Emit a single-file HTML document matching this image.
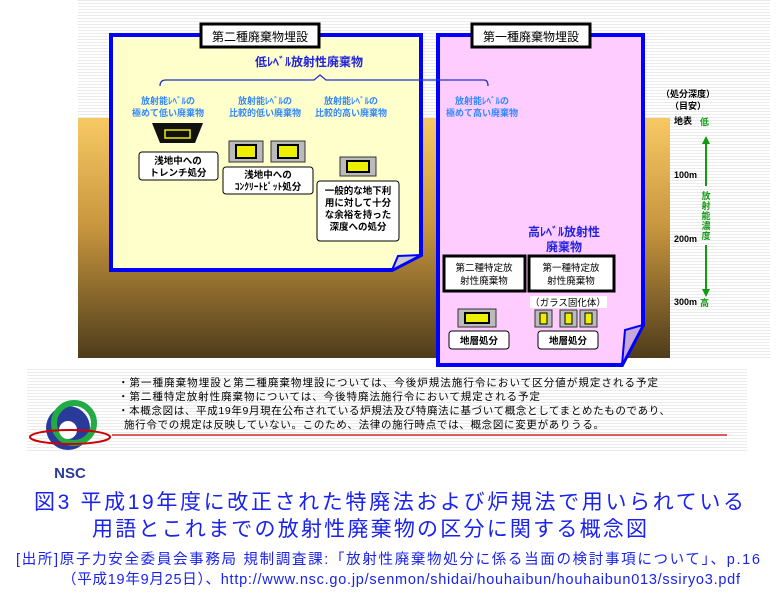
<!DOCTYPE html>
<html><head><meta charset="utf-8"><style>
html,body{margin:0;padding:0;background:#fff;width:777px;height:601px;overflow:hidden}
svg{display:block}
text{font-family:"Liberation Sans","Noto Sans CJK JP",sans-serif}
</style></head><body>
<svg width="777" height="601" viewBox="0 0 777 601" xmlns="http://www.w3.org/2000/svg">
<defs>
<pattern id="st" width="4" height="3" patternUnits="userSpaceOnUse"><rect width="4" height="1" fill="#ebebeb"/></pattern>
<linearGradient id="gr" x1="0" y1="0" x2="0" y2="1"><stop offset="0" stop-color="#f7c964"/><stop offset="0.45" stop-color="#c8963e"/><stop offset="1" stop-color="#4e3c1c"/></linearGradient>
</defs>
<rect x="78" y="0" width="692" height="118" fill="url(#st)"/>
<rect x="670" y="118" width="100" height="240" fill="url(#st)"/>
<rect x="27" y="367" width="720" height="85" fill="url(#st)"/>
<rect x="78" y="118" width="592" height="240" fill="url(#gr)"/>

<!-- yellow panel -->
<path d="M111 35 H421 V255 L392 270 H111 Z" fill="#ffffcc" stroke="#0000ff" stroke-width="4"/>
<path d="M421 255 L392 270 L398 256 Z" fill="#ccc" stroke="#0000ff" stroke-width="2"/>
<rect x="201" y="24" width="118" height="23" fill="#fff" stroke="#000" stroke-width="3"/>
<text x="260" y="41" font-size="12" text-anchor="middle">第二種廃棄物埋設</text>
<!-- pink panel -->
<path d="M438 35 H643 V325 L622 365 H438 Z" fill="#ffccff" stroke="#0000ff" stroke-width="4"/>
<path d="M643 325 L622 365 L625 330 Z" fill="#c8a8d8" stroke="#0000ff" stroke-width="2"/>
<rect x="472" y="24" width="118" height="23" fill="#fff" stroke="#000" stroke-width="3"/>
<text x="531" y="41" font-size="12" text-anchor="middle">第一種廃棄物埋設</text>

<text x="309" y="66" font-size="12" font-weight="bold" fill="#2222dd" text-anchor="middle">低ﾚﾍﾞﾙ放射性廃棄物</text>
<path d="M160 86 Q160 80 166 80 H314 L320 75 L326 80 H484 Q488 80 488 86" fill="none" stroke="#2233cc" stroke-width="1.3"/>

<g font-size="9" font-weight="bold" fill="#3388ff" text-anchor="middle">
<text x="168" y="104">放射能ﾚﾍﾞﾙの</text><text x="168" y="116">極めて低い廃棄物</text>
<text x="265" y="104">放射能ﾚﾍﾞﾙの</text><text x="265" y="116">比較的低い廃棄物</text>
<text x="351" y="104">放射能ﾚﾍﾞﾙの</text><text x="351" y="116">比較的高い廃棄物</text>
<text x="482" y="104">放射能ﾚﾍﾞﾙの</text><text x="482" y="116">極めて高い廃棄物</text>
</g>

<!-- icons -->
<path d="M152 123 H203 L195 143 H160 Z" fill="#111"/>
<rect x="165" y="130" width="25" height="8" fill="none" stroke="#ee0" stroke-width="1.5"/>
<rect x="229" y="141" width="34" height="21" fill="#bbb" stroke="#333"/><rect x="236" y="145" width="20" height="13" fill="#ee0" stroke="#000" stroke-width="2"/>
<rect x="271" y="141" width="34" height="21" fill="#bbb" stroke="#333"/><rect x="278" y="145" width="20" height="13" fill="#ee0" stroke="#000" stroke-width="2"/>
<rect x="340" y="157" width="36" height="19" fill="#bbb" stroke="#333"/><rect x="347" y="161" width="22" height="11" fill="#ee0" stroke="#000" stroke-width="2"/>

<g fill="#fff" stroke="#000" stroke-width="1">
<rect x="139" y="152" width="79" height="28" rx="3"/>
<rect x="223" y="167" width="90" height="27" rx="3"/>
<rect x="317" y="181" width="82" height="60" rx="3"/>
</g>
<g font-size="9.5" font-weight="bold" text-anchor="middle">
<text x="178" y="164">浅地中への</text><text x="178" y="176">トレンチ処分</text>
<text x="268" y="178">浅地中への</text><text x="268" y="190">ｺﾝｸﾘｰﾄﾋﾟｯﾄ処分</text>
<text x="358" y="194">一般的な地下利</text><text x="358" y="206">用に対して十分</text><text x="358" y="218">な余裕を持った</text><text x="358" y="230">深度への処分</text>
</g>

<text x="564" y="236" font-size="12" font-weight="bold" fill="#2222dd" text-anchor="middle">高ﾚﾍﾞﾙ放射性</text>
<text x="564" y="251" font-size="12" font-weight="bold" fill="#2222dd" text-anchor="middle">廃棄物</text>
<rect x="444" y="256" width="81" height="35" fill="#fff" stroke="#000" stroke-width="3"/>
<rect x="529" y="256" width="85" height="35" fill="#fff" stroke="#000" stroke-width="3"/>
<g font-size="9.5" text-anchor="middle">
<text x="484" y="271">第二種特定放</text><text x="484" y="284">射性廃棄物</text>
<text x="571" y="271">第一種特定放</text><text x="571" y="284">射性廃棄物</text>
</g>
<rect x="530" y="296" width="77" height="12" fill="#fff"/>
<text x="568" y="306" font-size="9.5" text-anchor="middle">（ガラス固化体）</text>
<rect x="458" y="309" width="38" height="18" fill="#bbb" stroke="#333"/><rect x="465" y="313" width="24" height="10" fill="#ee0" stroke="#000" stroke-width="2"/>
<g fill="#bbb" stroke="#333"><rect x="535" y="310" width="17" height="17"/><rect x="560" y="310" width="17" height="17"/><rect x="580" y="310" width="17" height="17"/></g>
<g fill="#ee0" stroke="#000"><rect x="540" y="313" width="7" height="11"/><rect x="565" y="313" width="7" height="11"/><rect x="585" y="313" width="7" height="11"/></g>
<rect x="449" y="331" width="60" height="18" rx="3" fill="#fff" stroke="#000"/>
<rect x="538" y="331" width="60" height="18" rx="3" fill="#fff" stroke="#000"/>
<text x="479" y="344" font-size="9.5" font-weight="bold" text-anchor="middle">地層処分</text>
<text x="568" y="344" font-size="9.5" font-weight="bold" text-anchor="middle">地層処分</text>

<!-- depth axis -->
<g font-size="9" font-weight="bold">
<text x="688" y="97" text-anchor="middle">（処分深度）</text>
<text x="688" y="109" text-anchor="middle">（目安）</text>
<text x="674" y="124">地表</text>
<text x="674" y="178">100m</text>
<text x="674" y="242">200m</text>
<text x="674" y="305">300m</text>
<text x="700" y="125" fill="#119911">低</text>
<text x="700" y="306" fill="#119911">高</text>
</g>
<g stroke="#119911" stroke-width="2"><line x1="706" y1="142" x2="706" y2="186"/><line x1="706" y1="245" x2="706" y2="290"/></g>
<path d="M702 144 L706 136 L710 144 Z M702 289 L706 297 L710 289 Z" fill="#119911"/>
<g font-size="9" font-weight="bold" fill="#119911" text-anchor="middle">
<text x="706" y="199">放</text><text x="706" y="209">射</text><text x="706" y="219">能</text><text x="706" y="229">濃</text><text x="706" y="239">度</text>
</g>

<!-- notes -->
<g font-size="10.5">
<text x="118" y="386" textLength="540">・第一種廃棄物埋設と第二種廃棄物埋設については、今後炉規法施行令において区分値が規定される予定</text>
<text x="118" y="400" textLength="422">・第二種特定放射性廃棄物については、今後特廃法施行令において規定される予定</text>
<text x="118" y="414" textLength="552">・本概念図は、平成19年9月現在公布されている炉規法及び特廃法に基づいて概念としてまとめたものであり、</text>
<text x="124" y="428" textLength="480">施行令での規定は反映していない。このため、法律の施行時点では、概念図に変更がありうる。</text>
</g>
<line x1="112" y1="435" x2="727" y2="435" stroke="#cc0000" stroke-width="1.2"/>

<!-- logo -->
<circle cx="68" cy="428" r="22" fill="#2a3a9a"/>
<circle cx="74" cy="423" r="20" fill="none" stroke="#22aa44" stroke-width="6"/>
<circle cx="68" cy="430" r="9" fill="#fff"/>
<ellipse cx="70" cy="437" rx="40" ry="7" fill="none" stroke="#cc0000" stroke-width="2"/>
<text x="70" y="478" font-size="15" font-weight="bold" fill="#2a3a9a" text-anchor="middle">NSC</text>

<!-- title -->
<g fill="#1a22ee">
<text x="34" y="509" font-size="21" textLength="710">図3 平成19年度に改正された特廃法および炉規法で用いられている</text>
<text x="92" y="536" font-size="21" textLength="555">用語とこれまでの放射性廃棄物の区分に関する概念図</text>
<text x="16" y="564" font-size="14.5" textLength="744">[出所]原子力安全委員会事務局 規制調査課:「放射性廃棄物処分に係る当面の検討事項について」、p.16</text>
<text x="62" y="584" font-size="14.5" textLength="678">（平成19年9月25日）、http://www.nsc.go.jp/senmon/shidai/houhaibun/houhaibun013/ssiryo3.pdf</text>
</g>
</svg>
</body></html>
